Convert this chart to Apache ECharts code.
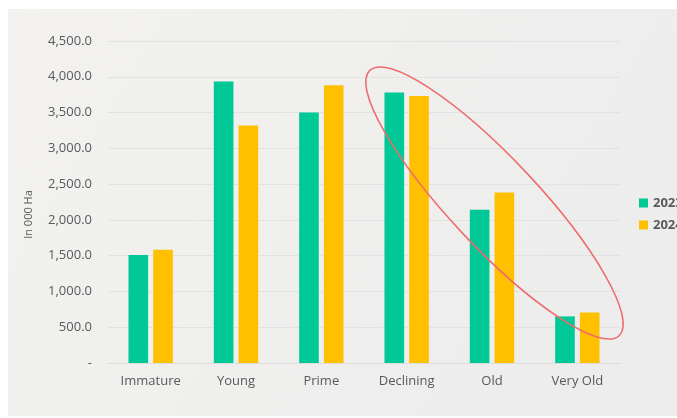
<!DOCTYPE html>
<html>
<head>
<meta charset="utf-8">
<script src="https://cdn.jsdelivr.net/npm/echarts@6/dist/echarts.min.js"></script>
<style>
html,body{margin:0;padding:0;background:#ffffff;}
#c{width:677px;height:418px;}
</style>
</head>
<body>
<div id="c"></div>
<script>
var categories = ['Immature', 'Young', 'Prime', 'Declining', 'Old', 'Very Old'];
var seriesNames = ['2023', '2024'];
var values2023 = [1508, 3933, 3500, 3779, 2141, 651];
var values2024 = [1582, 3318, 3883, 3733, 2383, 707];
var yTicks = {min: 0, max: 4500, interval: 500};
var axisTitle = 'In 000 Ha';

var chart = echarts.init(document.getElementById('c'), null, {renderer: 'canvas'});
var font = '"Open Sans", "Noto Sans", sans-serif';
var textColor = '#595959';

function fmt(v) {
  if (v === 0) return '-';
  return v.toLocaleString('en-US', {minimumFractionDigits: 1, maximumFractionDigits: 1});
}

chart.setOption({
  animation: false,
  backgroundColor: 'transparent',
  graphic: [
    {
      type: 'rect', z: -10, silent: true,
      shape: {x: 8, y: 9, width: 669, height: 407},
      style: {
        fill: {
          type: 'linear', x: 0, y: 0, x2: 1, y2: 1,
          colorStops: [{offset: 0, color: '#f3f2f0'}, {offset: 1, color: '#ececec'}]
        }
      }
    },
    {
      type: 'ellipse', z: 100, silent: true,
      x: 494.5, y: 203,
      rotation: -46.8 * Math.PI / 180,
      shape: {cx: 0, cy: 0, rx: 182, ry: 44},
      style: {fill: 'none', stroke: '#ef6b6b', lineWidth: 1.5}
    }
  ],
  grid: {left: 108, right: 57, top: 41, bottom: 55, containLabel: false},
  legend: {
    orient: 'vertical',
    left: 639, top: 194,
    padding: 0,
    itemWidth: 9, itemHeight: 9, itemGap: 4,
    icon: 'rect',
    textStyle: {color: textColor, fontFamily: font, fontSize: 13, fontWeight: 'bold', lineHeight: 18},
    data: seriesNames
  },
  xAxis: {
    type: 'category',
    data: categories,
    axisLine: {show: true, lineStyle: {color: '#dcdcdc', width: 1}},
    axisTick: {show: false},
    axisLabel: {color: textColor, fontFamily: font, fontSize: 13, margin: 12}
  },
  yAxis: {
    type: 'value',
    min: yTicks.min, max: yTicks.max, interval: yTicks.interval,
    name: axisTitle,
    nameLocation: 'middle',
    nameGap: 74,
    nameRotate: 90,
    nameTextStyle: {color: textColor, fontFamily: font, fontSize: 11, padding: [0, 0, 0, -25]},
    axisLine: {show: false},
    axisTick: {show: false},
    splitLine: {lineStyle: {color: '#e2e2e2', width: 1}},
    axisLabel: {color: textColor, fontFamily: font, fontSize: 13, margin: 16, formatter: fmt}
  },
  series: [
    {
      name: seriesNames[0], type: 'bar', data: values2023,
      itemStyle: {color: '#00c896'},
      barGap: '26%', barCategoryGap: '48%'
    },
    {
      name: seriesNames[1], type: 'bar', data: values2024,
      itemStyle: {color: '#ffc000'},
      barGap: '26%', barCategoryGap: '48%'
    }
  ]
});
</script>
</body>
</html>
